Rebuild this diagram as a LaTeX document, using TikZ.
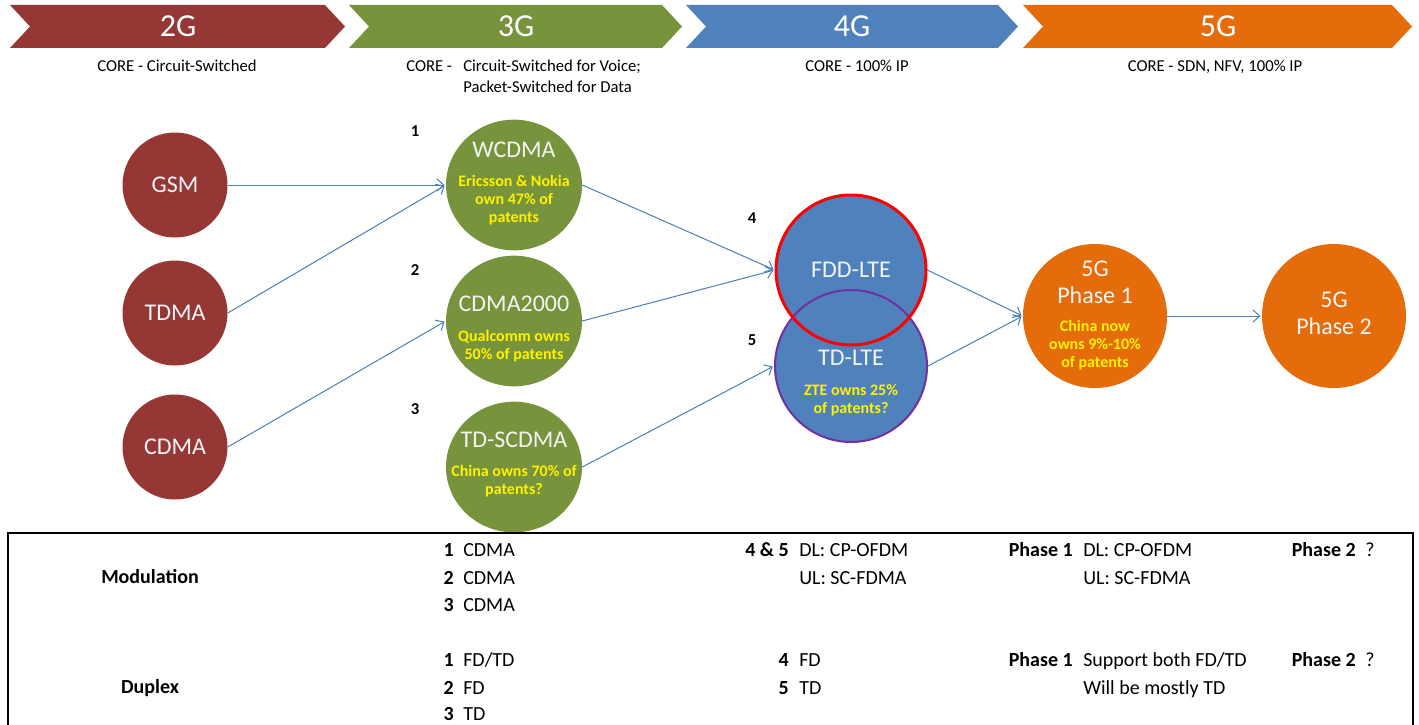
\documentclass[tikz,border=0pt]{standalone}
\usepackage{fontspec}
\setmainfont{Carlito}
\usetikzlibrary{arrows.meta,shapes.geometric}
\definecolor{gtwo}{HTML}{953735}
\definecolor{gthree}{HTML}{77933C}
\definecolor{gfour}{HTML}{4F81BD}
\definecolor{gfive}{HTML}{E46C0A}
\definecolor{arr}{HTML}{4A7EBB}
\definecolor{ttlw}{HTML}{F4F4F4}
\definecolor{ringp}{HTML}{7030A0}
\newcommand\fs[2]{\fontsize{#1}{#2}\selectfont}

\begin{document}
\begin{tikzpicture}[x=0.75pt,y=-0.75pt,
  bar/.style={text=white,font=\fs{24}{28},inner sep=0},
  core/.style={font=\fs{12.5}{15},inner sep=0,anchor=base},
  g2/.style={circle,fill=gtwo,minimum size=78.75pt,inner sep=0,text=ttlw,font=\fs{18}{20}},
  g3/.style={ellipse,fill=gthree,minimum width=102pt,minimum height=98pt,inner sep=0},
  g4/.style={circle,fill=gfour,minimum size=114pt,inner sep=0},
  g5/.style={circle,fill=gfive,minimum size=108pt,inner sep=0},
  ttl/.style={text=ttlw,font=\fs{18}{20},inner sep=0,align=center},
  yel/.style={text=yellow,font=\fs{12}{13.5}\bfseries,inner sep=0,align=center},
  idx/.style={font=\fs{12.5}{15}\bfseries,inner sep=0},
  conn/.style={-{Straight Barb[length=5pt,width=9pt]},arr,line width=0.75pt,shorten >=1pt},
  hd/.style={font=\fs{15}{18}\bfseries,inner sep=0,anchor=base},
  num/.style={font=\fs{15}{18}\bfseries,inner sep=0,anchor=base east},
  val/.style={font=\fs{15}{18},inner sep=0,anchor=base west}]
\useasboundingbox (0,0) rectangle (1419,724);

% generation bar
\foreach \a/\b/\c/\t/\m in {10/325/gtwo/2G/178,349/662/gthree/3G/516,686/998/gfour/4G/852,1023/1392/gfive/5G/1218}{
  \fill[\c] (\a,5) -- (\b,5) -- (\b+20,26.5) -- (\b,48) -- (\a,48) -- (\a+20,26.5) -- cycle;
  \node[bar] (bar\t) at (\m,26.5) {\t};
}
\node[core] (core2) at (177,71) {CORE - Circuit-Switched};
\node[core,anchor=base west] (core3a) at (406,71) {CORE -};
\node[core,anchor=base west] (core3b) at (463,71) {Circuit-Switched for Voice;};
\node[core,anchor=base west] (core3c) at (463,93) {Packet-Switched for Data};
\node[core] (core4) at (857,71) {CORE - 100\% IP};
\node[core] (core5) at (1215,71) {CORE - SDN, NFV, 100\% IP};

% 2G
\node[g2] (gsm) at (175,185) {GSM};
\node[g2] (tdma) at (175,313) {TDMA};
\node[g2] (cdma) at (175,447) {CDMA};

% 3G
\node[g3] (wcdma) at (514,185) {};
\node[ttl] (wcdma-t) at (514,150) {WCDMA};
\node[yel] (wcdma-p) at (514,200) {Ericsson \& Nokia\\own 47\% of\\patents};
\node[g3] (cdma2k) at (514,321) {};
\node[ttl] (cdma2k-t) at (514,304) {CDMA2000};
\node[yel] (cdma2k-p) at (514,346.5) {Qualcomm owns\\50\% of patents};
\node[g3] (tdscdma) at (514,467) {};
\node[ttl] (tdscdma-t) at (514,440) {TD-SCDMA};
\node[yel] (tdscdma-p) at (514,481) {China owns 70\% of\\patents?};
\node[idx] (n1) at (415,131) {1};
\node[idx] (n2) at (415,270) {2};
\node[idx] (n3) at (415,409) {3};

% 4G
\node[g4] (fdd) at (851,270) {};
\node[g4,draw=ringp,line width=1.5pt] (tdlte) at (851,366) {};
\draw[red,line width=2.25pt] (fdd.center) circle[radius=75];
\node[ttl] (fdd-t) at (851,270) {FDD-LTE};
\node[ttl] (tdlte-t) at (851,358) {TD-LTE};
\node[yel] (tdlte-p) at (851,400) {ZTE owns 25\%\\of patents?};
\node[idx] (n4) at (752,218) {4};
\node[idx] (n5) at (752,340) {5};

% 5G
\node[g5] (ph1) at (1095,316) {};
\node[ttl] (ph1-t) at (1095,282) {5G\\Phase 1};
\node[yel] (ph1-p) at (1095,345) {China now\\owns 9\%-10\%\\of patents};
\node[g5] (ph2) at (1334,316) {};
\node[ttl] (ph2-t) at (1334,313) {5G\\Phase 2};

% arrows
\draw[conn] (gsm.east) -- (wcdma.west);
\draw[conn] (tdma.east) -- (wcdma.west);
\draw[conn] (cdma.east) -- (cdma2k.west);
\draw[conn] (wcdma.east) -- (fdd.west);
\draw[conn] (cdma2k.east) -- (fdd.west);
\draw[conn] (tdscdma.east) -- (tdlte.west);
\draw[conn] (fdd.east) -- (ph1.west);
\draw[conn] (tdlte.east) -- (ph1.west);
\draw[conn] (ph1.east) -- (ph2.west);

% table
\draw[line width=1.5pt] (8,760) -- (8,533) -- (1413,533) -- (1413,760);
\node[hd] (modl) at (150,583.5) {Modulation};
\node[hd] (dupl) at (150,693.5) {Duplex};
\foreach \n/\y/\t in {1/556.5/CDMA,2/584.5/CDMA,3/611.5/CDMA}{
  \node[num] (mn\n) at (454,\y) {\n};
  \node[val] (mv\n) at (463,\y) {\t};
}
\foreach \n/\y/\t in {1/666.5/FD\slash TD,2/694.5/FD,3/720.5/TD}{
  \node[num] (dn\n) at (454,\y) {\n};
  \node[val] (dv\n) at (463,\y) {\t};
}
\node[num] (m45) at (789,556.5) {4 \& 5};
\node[val] (m45a) at (799,556.5) {DL: CP-OFDM};
\node[val] (m45b) at (799,584.5) {UL: SC-FDMA};
\node[num] (d4) at (789,666.5) {4};
\node[val] (d4a) at (799,666.5) {FD};
\node[num] (d5) at (789,694.5) {5};
\node[val] (d5a) at (799,694.5) {TD};
\node[num] (mp1) at (1073,556.5) {Phase 1};
\node[val] (mp1a) at (1083,556.5) {DL: CP-OFDM};
\node[val] (mp1b) at (1083,584.5) {UL: SC-FDMA};
\node[num] (dp1) at (1073,666.5) {Phase 1};
\node[val] (dp1a) at (1083,666.5) {Support both FD/TD};
\node[val] (dp1b) at (1083,694.5) {Will be mostly TD};
\node[num] (mp2) at (1356,556.5) {Phase 2};
\node[val] (mp2a) at (1365,556.5) {?};
\node[num] (dp2) at (1356,666.5) {Phase 2};
\node[val] (dp2a) at (1365,666.5) {?};
\end{tikzpicture}
\end{document}
